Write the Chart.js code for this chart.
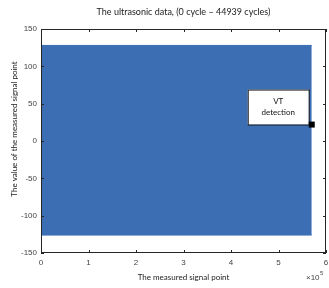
<!DOCTYPE html>
<html>
<head>
<meta charset="utf-8">
<script src="https://cdn.jsdelivr.net/npm/chart.js@4"></script>
<style>
  html, body { margin: 0; padding: 0; background: #fff; }
  #wrap { width: 329px; height: 288px; }
</style>
</head>
<body>
<div id="wrap"><canvas id="c" width="329" height="288"></canvas></div>
<script>
// --- dati ---
const signalStart = 0;
const signalEnd = 570000;       // ultimo punto misurato
const upperEnvelope = [128, 128];
const lowerEnvelope = [-126, -126];
const vtPoint = { x: 570000, y: 22 };
const xTicks = [0, 1, 2, 3, 4, 5, 6];   // x 10^5
const yTicks = [-150, -100, -50, 0, 50, 100, 150];
const chartTitle = "The ultrasonic data, (0 cycle \u2013 44939 cycles)";
const yTitle = "The value of the measured signal point";

const BLUE = "#3c6eb4";
const LABEL_FONT = "Lato, 'Open Sans', sans-serif";
const TICK_FONT = "'Liberation Sans', Arial, sans-serif";

// titolo, tick interni, box, annotazione VT, x10^5
const decorPlugin = {
  id: "decor",
  afterDraw(chart) {
    const { ctx, chartArea: a, scales } = chart;
    const sx = scales.x, sy = scales.y;
    ctx.save();

    // titolo centrato sull'area del grafico
    ctx.fillStyle = "#222";
    ctx.font = "9px " + LABEL_FONT;
    ctx.textAlign = "center";
    ctx.textBaseline = "middle";
    ctx.fillText(chartTitle, (a.left + a.right) / 2, 12);

    // titolo asse y
    ctx.save();
    ctx.translate(14, 129);
    ctx.rotate(-Math.PI / 2);
    ctx.font = "8px " + LABEL_FONT;
    ctx.fillText(yTitle, 0, 0);
    ctx.restore();

    ctx.strokeStyle = "#262626";
    ctx.lineWidth = 1;
    ctx.strokeRect(a.left + 0.5, a.top + 0.5, a.right - a.left - 1, a.bottom - a.top - 1);
    ctx.beginPath();
    xTicks.forEach((t) => {
      const px = Math.round(sx.getPixelForValue(t * 1e5)) + 0.5;
      ctx.moveTo(px, a.bottom); ctx.lineTo(px, a.bottom - 3);
      ctx.moveTo(px, a.top); ctx.lineTo(px, a.top + 3);
    });
    yTicks.forEach((t) => {
      const py = Math.round(sy.getPixelForValue(t)) + 0.5;
      ctx.moveTo(a.left, py); ctx.lineTo(a.left + 3, py);
      ctx.moveTo(a.right, py); ctx.lineTo(a.right - 3, py);
    });
    ctx.stroke();

    // annotazione
    const px = sx.getPixelForValue(vtPoint.x);
    const py = sy.getPixelForValue(vtPoint.y);
    const bw = 61, bh = 35;
    const bx = px - bw - 3, by = py - bh;
    ctx.fillStyle = "#fff";
    ctx.fillRect(bx, by, bw, bh);
    ctx.strokeStyle = "#222";
    ctx.strokeRect(bx + 0.5, by + 0.5, bw, bh);
    ctx.fillStyle = "#111";
    ctx.font = "8px " + LABEL_FONT;
    ctx.textAlign = "center";
    ctx.textBaseline = "middle";
    ctx.fillText("VT", bx + bw / 2, by + 12);
    ctx.fillText("detection", bx + bw / 2, by + 23);
    ctx.fillStyle = "#000";
    ctx.fillRect(px - 3, py - 3, 6, 6);

    // x 10^5
    ctx.fillStyle = "#444";
    ctx.textAlign = "left";
    ctx.textBaseline = "alphabetic";
    ctx.font = "8px " + TICK_FONT;
    ctx.fillText("\u00d710", a.right - 20, a.bottom + 27);
    ctx.font = "6px " + TICK_FONT;
    ctx.fillText("5", a.right - 6, a.bottom + 22);
    ctx.restore();
  },
};

new Chart(document.getElementById("c"), {
  type: "line",
  data: {
    datasets: [
      {
        data: [
          { x: signalStart, y: upperEnvelope[0] },
          { x: signalEnd, y: upperEnvelope[1] },
        ],
        borderColor: BLUE,
        borderWidth: 1,
        pointRadius: 0,
        fill: "+1",
        backgroundColor: BLUE,
      },
      {
        data: [
          { x: signalStart, y: lowerEnvelope[0] },
          { x: signalEnd, y: lowerEnvelope[1] },
        ],
        borderColor: BLUE,
        borderWidth: 1,
        pointRadius: 0,
        fill: false,
      },
    ],
  },
  options: {
    responsive: false,
    animation: false,
    layout: { padding: { left: 0, right: 0, top: 29, bottom: 0 } },
    plugins: {
      legend: { display: false },
      tooltip: { enabled: false },
      title: { display: false },
    },
    scales: {
      x: {
        type: "linear",
        min: 0,
        max: 600000,
        afterFit: (s) => { s.height = 35; s.paddingRight = 3; },
        afterBuildTicks: (s) => { s.ticks = xTicks.map((v) => ({ value: v * 1e5 })); },
        grid: { display: false, drawTicks: false },
        border: { display: false },
        ticks: {
          color: "#444",
          font: { family: TICK_FONT, size: 8 },
          padding: 5,
          maxRotation: 0,
          callback: (v) => String(v / 1e5),
        },
        title: {
          display: true,
          text: "The measured signal point",
          color: "#222",
          font: { family: LABEL_FONT, size: 8 },
          padding: { top: 0, bottom: 6 },
        },
      },
      y: {
        min: -150,
        max: 150,
        afterFit: (s) => { s.width = 41; },
        afterBuildTicks: (s) => { s.ticks = yTicks.map((v) => ({ value: v })); },
        grid: { display: false, drawTicks: false },
        border: { display: false },
        ticks: {
          color: "#444",
          font: { family: TICK_FONT, size: 8 },
          padding: 4,
        },
      },
    },
  },
  plugins: [decorPlugin],
});
</script>
</body>
</html>
